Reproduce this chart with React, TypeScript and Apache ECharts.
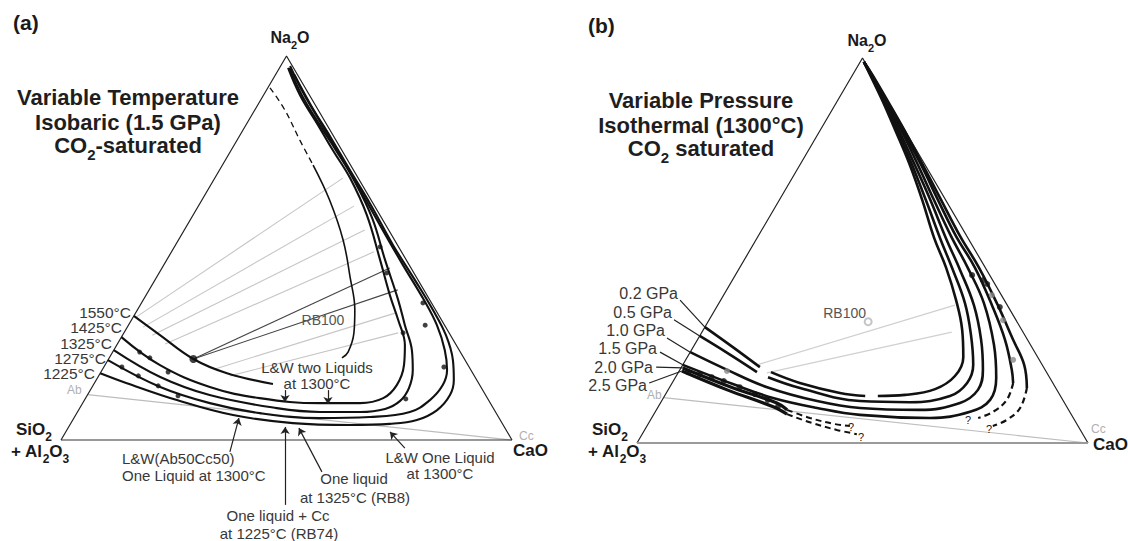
import React, { useEffect, useRef } from "react";
import * as echarts from "echarts";

// All compositions are ternary points [Na2O, CaO] in wt% (remainder = SiO2 + Al2O3)
type TP = [number, number];

// ---------- Panel (a): variable temperature, 1.5 GPa ----------
const T1550_LOW: TP[] = [[32.3, 0], [27.3, 8.3], [21.1, 18.8], [17.4, 28.1], [14.6, 39.7]];
const T1550_HIGH_DASH: TP[] = [[91.7, 0.5], [85.9, 6.7], [78.1, 13.9], [71.6, 20.1]];
const T1550_HIGH: TP[] = [[71.6, 20.1], [62.5, 28.3], [52.1, 36.5], [42.4, 42.9], [33.9, 48.2], [27.9, 51.0], [22.9, 52.2], [21.4, 51.6]];
const T1425: TP[] = [[26.8, 0], [19.5, 12.2], [13.8, 26.1], [10.9, 38.6], [9.6, 52.6], [9.6, 61.5], [10.9, 66.0], [14.3, 67.3], [19.5, 66.3], [24.7, 63.9], [31.3, 59.1], [37.8, 54.0], [46.9, 47.3], [58.6, 38.5], [68.2, 30.0], [75.5, 22.5], [82.0, 16.0], [89.8, 8.1], [96.9, 1.9]];
const T1325: TP[] = [[23.4, 0], [16.4, 13.8], [11.7, 27.1], [8.3, 43.7], [7.3, 53.8], [7.3, 62.6], [8.1, 67.8], [10.2, 70.1], [13.5, 70.4], [18.2, 68.9], [23.4, 66.1], [29.9, 61.3], [36.5, 56.5], [46.9, 48.4], [57.8, 40.1], [67.7, 31.1], [75.5, 23.2], [82.0, 16.4], [89.8, 8.5], [96.9, 2.2]];
const T1275: TP[] = [[20.8, 0], [13.8, 15.1], [9.6, 28.2], [7.0, 40.6], [5.7, 54.5], [6.0, 65.5], [7.3, 73.7], [10.4, 76.6], [14.3, 77.5], [18.2, 76.5], [23.4, 73.4], [29.9, 68.4], [36.5, 62.2], [45.6, 53.0], [56.0, 42.7], [65.6, 33.3], [74.2, 24.8], [82.0, 16.9], [90.4, 8.5], [97.4, 2.1]];
const T1225: TP[] = [[17.4, 0], [14.8, 7.2], [10.4, 20.5], [6.5, 34.9], [4.4, 49.2], [3.9, 62.2], [4.2, 70.8], [5.2, 76.3], [7.8, 79.5], [11.7, 80.4], [15.6, 79.3], [20.8, 76.5], [27.3, 71.7], [33.9, 65.5], [41.7, 57.6], [50.8, 48.2], [61.2, 38.1], [70.3, 28.9], [78.6, 20.6], [87.2, 11.8], [95.1, 4.2]];
const A_TIES_GRAY: [TP, TP][] = [
  [[31.8, 0.5], [68.2, 28.4]],
  [[29.4, 3.5], [60.9, 34.5]],
  [[27.3, 6.6], [54.7, 40.0]],
  [[25.0, 10.6], [49.0, 44.9]],
  [[18.5, 24.9], [33.1, 57.7]],
  [[16.7, 29.1], [27.9, 60.8]],
];
const A_TIES_DARK: [TP, TP][] = [
  [[21.1, 18.8], [44.8, 50.5]],
  [[21.1, 18.8], [39.1, 55.1]],
];
const A_DOTS: TP[] = [[22.9, 6.0], [21.4, 9.0], [17.7, 14.9], [19.0, 4.0], [16.7, 8.8], [14.1, 14.5], [11.5, 20.2], [50.3, 45.6], [43.5, 50.5], [35.7, 62.4], [27.9, 61.9], [19.0, 75.4], [10.7, 71.1], [29.9, 65.8]];
const A_BIG_DOT: TP[] = [[21.1, 18.8]];
const A_ARROWS: [TP, TP][] = [
  [[-3.1, 39.0], [5.7, 36.6]],
  [[13.0, 43.2], [9.9, 44.7]],
  [[13.0, 52.7], [9.4, 54.5]],
  [[-16.9, 58.1], [3.4, 48.0]],
  [[-8.3, 62.0], [3.1, 51.2]],
  [[-2.1, 77.3], [2.1, 71.9]],
];
const A_TEMP_LABELS = ["1550°C", "1425°C", "1325°C", "1275°C", "1225°C"];

// ---------- Panel (b): variable pressure, 1300 °C ----------
const P02_A: TP[] = [[30.1, 0], [24.9, 8.8], [19.7, 17.4]];
const P02_B: TP[] = [[18.4, 20.5], [15.6, 28.3], [13.0, 38.5], [12.2, 44.5]];
const P02_C: TP[] = [[12.2, 47.3], [12.5, 53.2], [14.0, 59.1], [17.4, 61.8], [22.3, 61.2], [29.4, 57.4], [37.1, 52.2], [45.5, 45.8], [53.2, 39.3], [63.1, 31.7], [72.2, 24.4], [81.3, 16.6], [89.1, 9.8], [95.6, 3.9], [99.0, 0.8]];
const P05_A: TP[] = [[27.8, 0], [23.4, 8.3], [18.4, 17.4]];
const P05_B: TP[] = [[17.1, 20.5], [14.3, 29.0], [10.9, 44.0], [10.6, 55.2], [12.2, 63.3], [15.6, 65.4], [20.3, 64.4], [28.1, 60.0], [36.4, 54.5], [45.5, 47.1], [53.2, 40.6], [63.1, 32.5], [72.2, 24.9], [81.3, 17.0], [89.1, 10.0], [95.6, 4.0], [99.0, 0.8]];
const P10: TP[] = [[23.6, 0], [19.0, 10.5], [14.5, 21.6], [10.9, 34.5], [9.1, 44.9], [8.6, 58.4], [10.4, 66.4], [13.8, 68.7], [19.0, 67.2], [26.8, 62.9], [35.8, 56.8], [44.9, 49.2], [53.2, 41.9], [63.1, 33.5], [72.2, 25.5], [81.3, 17.4], [89.1, 10.2], [95.6, 4.1], [99.0, 0.8]];
const P15: TP[] = [[20.3, 0], [15.3, 13.6], [11.7, 24.3], [9.1, 35.4], [7.3, 45.8], [6.5, 61.7], [8.1, 69.8], [11.2, 72.7], [16.9, 71.2], [25.5, 66.4], [36.4, 58.7], [45.5, 50.6], [53.8, 42.7], [63.1, 34.3], [72.2, 26.2], [81.3, 17.9], [89.1, 10.4], [95.6, 4.2], [99.0, 0.8]];
const P20_LEFT: TP[] = [[19.5, 0.4], [14.3, 14.2], [10.4, 25.8], [8.6, 29.0]];
const P20_LEFT_DASH: TP[] = [[8.6, 29.0], [6.5, 35.1], [4.9, 41.5], [4.4, 45.0]];
const P20_RIGHT: TP[] = [[99.0, 0.8], [95.6, 4.3], [89.1, 10.7], [81.3, 18.2], [72.2, 26.9], [63.1, 35.2], [53.8, 43.8], [45.5, 52.2], [35.8, 60.8], [26.8, 68.2], [19.0, 73.6], [15.6, 75.6]];
const P20_RIGHT_DASH: TP[] = [[15.6, 75.6], [11.2, 76.4], [8.1, 74.9], [6.5, 72.4]];
const P25_LEFT: TP[] = [[18.7, 0.6], [13.8, 13.1], [9.4, 25.5], [7.5, 29.5]];
const P25_LEFT_DASH: TP[] = [[7.5, 29.5], [5.2, 36.2], [3.4, 42.6], [2.3, 47.6]];
const P25_RIGHT: TP[] = [[99.0, 0.8], [95.6, 4.4], [89.1, 10.9], [81.3, 18.6], [72.2, 27.3], [63.1, 35.9], [53.8, 44.7], [45.5, 53.1], [35.8, 62.1], [26.8, 70.0], [20.3, 75.7], [14.3, 79.3]];
const P25_RIGHT_DASH: TP[] = [[14.3, 79.3], [9.1, 80.4], [6.0, 79.0], [4.4, 76.7]];
const B_TIES_GRAY: [TP, TP][] = [
  [[20.3, 16.5], [35.8, 52.6]],
  [[18.2, 19.7], [28.8, 55.4]],
];
const B_LEADERS: [TP, TP][] = [
  [[37.1, -9.0], [30.1, 0]],
  [[32.0, -7.8], [27.8, 0]],
  [[27.3, -7.0], [23.6, 0]],
  [[23.6, -6.7], [20.3, 0]],
  [[19.7, -5.6], [19.5, 0.4]],
  [[15.6, -5.1], [18.7, 0.6]],
];
const B_DOTS_BLACK: TP[] = [[18.4, 2.1], [17.9, 5.0], [17.1, 8.0], [16.1, 11.2], [14.5, 15.5], [12.7, 19.8], [11.2, 23.4], [9.6, 26.5], [43.6, 52.5], [42.3, 55.6], [41.3, 57.0], [35.3, 62.8]];
const B_DOTS_GRAY: TP[] = [[18.7, 10.6], [38.4, 59.5], [31.9, 65.2], [21.6, 72.6]];
const B_PRESSURE_LABELS = ["0.2 GPa", "0.5 GPa", "1.0 GPa", "1.5 GPa", "2.0 GPa", "2.5 GPa"];

// shared compositions
const APEX: TP = [100, 0];
const SIO2: TP = [0, 0];
const CAO: TP = [0, 100];
const AB: TP = [11.8, 0];
const CC: TP = [0, 100];
const RB100: TP[] = [[31.5, 35.5]];

const FONT = '"Liberation Sans", Arial, Helvetica, sans-serif';
const xy = (p: TP): [number, number] => [p[1] + p[0] / 2, p[0]];

function curve(data: TP[], g: number, width: number, dashed = false, color = "#111") {
  return {
    type: "line",
    xAxisIndex: g,
    yAxisIndex: g,
    data: data.map(xy),
    smooth: 0.4,
    symbol: "none",
    silent: true,
    clip: false,
    z: 3,
    lineStyle: { color, width, type: dashed ? [6, 4] : "solid" },
  };
}

function segs(pairs: [TP, TP][], g: number, color: string, width: number, arrow = false, z = 1) {
  return {
    type: "lines",
    coordinateSystem: "cartesian2d",
    xAxisIndex: g,
    yAxisIndex: g,
    data: pairs.map(([a, b]) => ({ coords: [xy(a), xy(b)] })),
    symbol: arrow ? ["none", "arrow"] : ["none", "none"],
    symbolSize: arrow ? 7 : 0,
    lineStyle: { color, width, opacity: 1, curveness: 0 },
    silent: true,
    clip: false,
    z,
  };
}

function dots(pts: TP[], g: number, color: string, size: number, empty = false) {
  return {
    type: "scatter",
    xAxisIndex: g,
    yAxisIndex: g,
    data: pts.map(xy),
    symbol: empty ? "emptyCircle" : "circle",
    symbolSize: size,
    itemStyle: { color, borderColor: color, borderWidth: empty ? 1.2 : 0 },
    silent: true,
    clip: false,
    z: 4,
  };
}

function txt(x: number, y: number, text: string, size: number, o: any = {}) {
  const align = o.align || "center";
  return {
    type: "text",
    x,
    y,
    silent: true,
    z: 10,
    style: {
      text,
      fontSize: size,
      fontWeight: o.bold ? "bold" : "normal",
      fontFamily: FONT,
      fill: o.color || "#383838",
      lineHeight: o.lineHeight,
      align,
      textAlign: align,
      verticalAlign: "middle",
      textVerticalAlign: "middle",
    },
  };
}

// chemical formula with subscripts (normal tokens top-aligned, subscripts bottom-aligned)
function chem(x: number, y: number, parts: [string, boolean][], size: number, align = "left", color = "#1a1a1a") {
  const text = parts.map(([s, sub]) => `{${sub ? "s" : "n"}|${s}}`).join("");
  const sub = Math.round(size * 0.68);
  return {
    type: "text",
    x,
    y,
    silent: true,
    z: 10,
    style: {
      text,
      align,
      textAlign: align,
      verticalAlign: "middle",
      textVerticalAlign: "middle",
      rich: {
        n: { fontSize: size, fontWeight: "bold", fontFamily: FONT, fill: color, lineHeight: size + 5, verticalAlign: "top" },
        s: { fontSize: sub, fontWeight: "bold", fontFamily: FONT, fill: color, lineHeight: sub, verticalAlign: "bottom" },
      },
    },
  };
}

function buildOption() {
  const edges = (g: number, baseColor: string, baseWidth: number) => [
    {
      type: "line", xAxisIndex: g, yAxisIndex: g, data: [CAO, APEX, SIO2].map(xy),
      symbol: "none", silent: true, clip: false, z: 2, lineStyle: { color: "#222", width: 1.2 },
    },
    {
      type: "line", xAxisIndex: g, yAxisIndex: g, data: [SIO2, CAO].map(xy),
      symbol: "none", silent: true, clip: false, z: 2, lineStyle: { color: baseColor, width: baseWidth },
    },
  ];

  const series: any[] = [
    // panel (a)
    ...edges(0, "#333", 1.2),
    segs([[AB, CC]], 0, "#bdbdbd", 1.2),
    segs(A_TIES_GRAY, 0, "#c6c6c6", 1.1),
    segs(A_TIES_DARK, 0, "#444", 1.1, false, 2),
    curve(T1550_LOW, 0, 2.1),
    curve(T1550_HIGH_DASH, 0, 1.3, true),
    curve(T1550_HIGH, 0, 1.6),
    curve(T1425, 0, 2.1),
    curve(T1325, 0, 2.1),
    curve(T1275, 0, 2.1),
    curve(T1225, 0, 2.1),
    dots(A_DOTS, 0, "#111", 5),
    dots(A_BIG_DOT, 0, "#111", 8),
    segs(A_ARROWS, 0, "#222", 1.2, true, 5),
    // panel (b)
    ...edges(1, "#9a9a9a", 2),
    segs([[AB, CC]], 1, "#bdbdbd", 1.2),
    segs(B_TIES_GRAY, 1, "#d0d0d0", 1.3),
    segs(B_LEADERS, 1, "#222", 1.2, false, 5),
    curve(P02_A, 1, 2.6),
    curve(P02_B, 1, 2.6),
    curve(P02_C, 1, 2.6),
    curve(P05_A, 1, 2.6),
    curve(P05_B, 1, 2.6),
    curve(P10, 1, 2.6),
    curve(P15, 1, 2.6),
    curve(P20_LEFT, 1, 3.2),
    curve(P20_LEFT_DASH, 1, 2.0, true),
    curve(P20_RIGHT, 1, 2.6),
    curve(P20_RIGHT_DASH, 1, 2.2, true),
    curve(P25_LEFT, 1, 3.2),
    curve(P25_LEFT_DASH, 1, 2.0, true),
    curve(P25_RIGHT, 1, 2.6),
    curve(P25_RIGHT_DASH, 1, 2.2, true),
    dots(B_DOTS_BLACK, 1, "#111", 6),
    dots(B_DOTS_GRAY, 1, "#8a8a8a", 6),
    dots(RB100, 1, "#b5b5b5", 7, true),
  ];

  const aTempY = [312, 327, 343, 358, 373];
  const aTempX = [131, 122, 112, 106, 95];
  const bPresY = [293, 312, 330, 348, 367, 385];
  const bPresX = [678, 672, 665, 657, 653, 647];

  const elements: any[] = [
    // panel (a) texts
    txt(13, 22, "(a)", 21, { bold: true, align: "left", color: "#1a1a1a" }),
    chem(290, 40, [["Na", false], ["2", true], ["O", false]], 16, "center"),
    txt(128, 97, "Variable Temperature", 22, { bold: true, color: "#1e1e1e" }),
    txt(128, 122, "Isobaric (1.5 GPa)", 22, { bold: true, color: "#1e1e1e" }),
    chem(128, 148, [["CO", false], ["2", true], ["-saturated", false]], 22, "center", "#1e1e1e"),
    ...A_TEMP_LABELS.map((t, i) => txt(aTempX[i], aTempY[i], t, 15.5, { align: "right", lineHeight: 14 })),
    txt(67, 390, "Ab", 12, { align: "left", color: "#b0b0b0" }),
    txt(519, 436, "Cc", 12, { align: "left", color: "#b0b0b0" }),
    chem(16, 432, [["SiO", false], ["2", true]], 17),
    chem(11, 454, [["+ Al", false], ["2", true], ["O", false], ["3", true]], 17),
    chem(513, 453, [["CaO", false]], 17),
    txt(323, 320, "RB100", 14, { color: "#555" }),
    txt(317, 367, "L&W two Liquids", 15),
    txt(317, 383, "at 1300°C", 15),
    txt(122, 458, "L&W(Ab50Cc50)", 15, { align: "left" }),
    txt(122, 475, "One Liquid at 1300°C", 15, { align: "left" }),
    txt(354, 478, "One liquid", 15),
    txt(355, 497, "at 1325°C (RB8)", 15),
    txt(278, 515, "One liquid + Cc", 15),
    txt(279, 533, "at 1225°C (RB74)", 15),
    txt(440, 457, "L&W One Liquid", 15),
    txt(440, 473, "at 1300°C", 15),
    // panel (b) texts
    txt(588, 25, "(b)", 21, { bold: true, align: "left", color: "#1a1a1a" }),
    chem(867, 43, [["Na", false], ["2", true], ["O", false]], 16, "center"),
    txt(701, 100, "Variable Pressure", 22, { bold: true, color: "#1e1e1e" }),
    txt(701, 125, "Isothermal (1300°C)", 22, { bold: true, color: "#1e1e1e" }),
    chem(701, 151, [["CO", false], ["2", true], [" saturated", false]], 22, "center", "#1e1e1e"),
    ...B_PRESSURE_LABELS.map((t, i) => txt(bPresX[i], bPresY[i], t, 16, { align: "right", lineHeight: 16 })),
    txt(647, 395, "Ab", 12, { align: "left", color: "#b0b0b0" }),
    txt(1091, 429, "Cc", 12, { align: "left", color: "#b0b0b0" }),
    chem(592, 432, [["SiO", false], ["2", true]], 17),
    chem(588, 454, [["+ Al", false], ["2", true], ["O", false], ["3", true]], 17),
    chem(1093, 447, [["CaO", false]], 17),
    txt(866, 313, "RB100", 14, { align: "right", color: "#555" }),
    txt(968, 420, "?", 11, { color: "#222" }),
    txt(989, 429, "?", 11, { color: "#222" }),
    txt(851, 427, "?", 11, { color: "#222" }),
    txt(861, 437, "?", 11, { color: "#222" }),
  ];

  return {
    animation: false,
    backgroundColor: "#ffffff",
    grid: [
      { left: 61, top: 56, width: 451, height: 384 },
      { left: 637, top: 58, width: 451, height: 385 },
    ],
    xAxis: [
      { gridIndex: 0, type: "value", min: 0, max: 100, show: false },
      { gridIndex: 1, type: "value", min: 0, max: 100, show: false },
    ],
    yAxis: [
      { gridIndex: 0, type: "value", min: 0, max: 100, show: false },
      { gridIndex: 1, type: "value", min: 0, max: 100, show: false },
    ],
    series,
    graphic: { elements },
  };
}

export default function App() {
  const ref = useRef<HTMLDivElement>(null);
  useEffect(() => {
    if (!ref.current) return;
    const chart = echarts.init(ref.current, undefined, { renderer: "svg" });
    chart.setOption(buildOption() as any);
    return () => chart.dispose();
  }, []);
  return (
    <div
      ref={ref}
      style={{ position: "fixed", left: 0, top: 0, width: 1128, height: 541, background: "#fff" }}
    />
  );
}
